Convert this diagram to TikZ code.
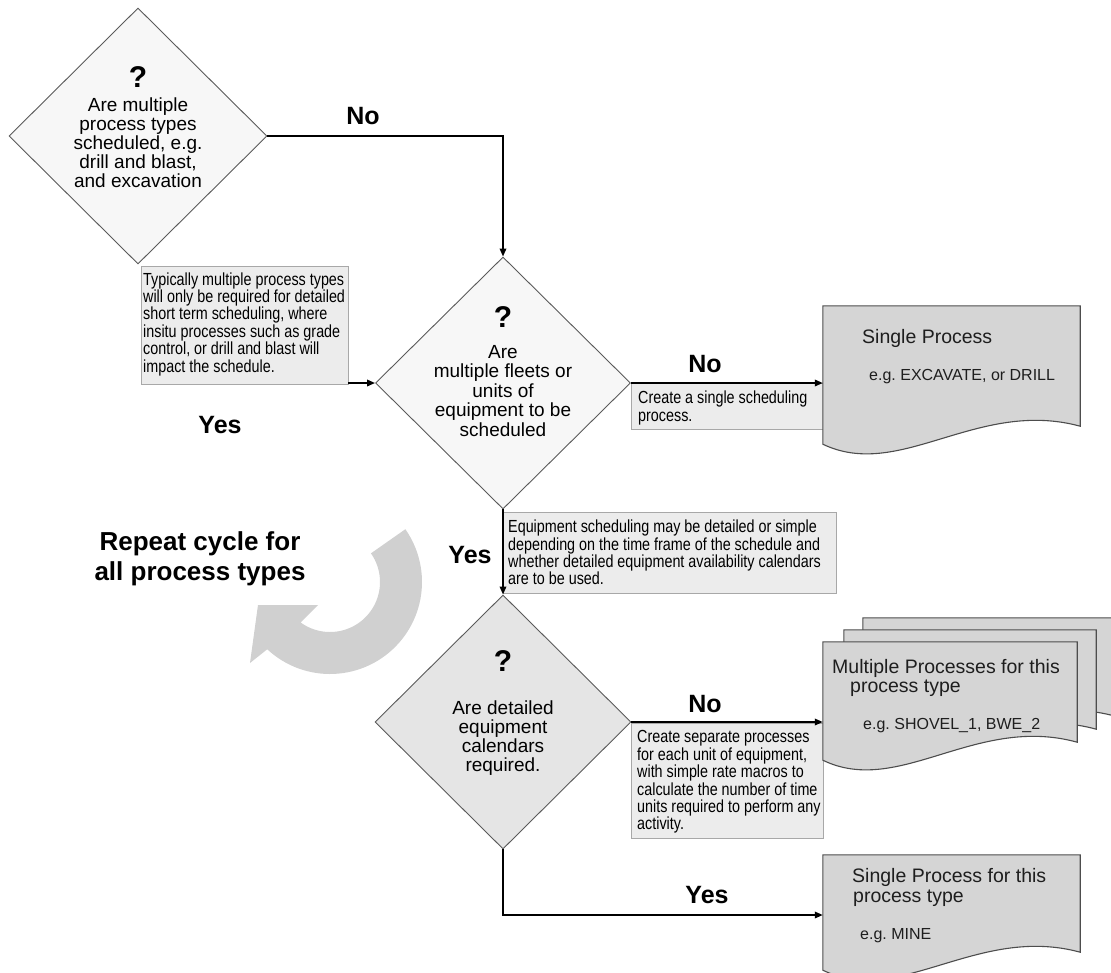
\documentclass[tikz,border=0pt]{standalone}
\usepackage{fontspec}
\setmainfont{Liberation Sans}
\newfontfamily\narrowfont[FakeStretch=0.82]{Liberation Sans}
\usetikzlibrary{shapes.geometric,arrows.meta,calc}
\definecolor{dialine}{HTML}{5A5A5A}
\definecolor{diafill}{HTML}{F7F7F7}
\definecolor{diafilldark}{HTML}{E5E5E5}
\definecolor{notefill}{HTML}{ECECEC}
\definecolor{noteline}{HTML}{A8A8A8}
\definecolor{docfill}{HTML}{D5D5D5}
\definecolor{docline}{HTML}{4D4D4D}
\definecolor{cyclegray}{HTML}{D0D0D0}
\definecolor{doctext}{HTML}{1E1E1E}
\frenchspacing
\newcommand\docpath[1]{%
  \draw[docstyle] (#1.south east) -- (#1.north east) -- (#1.north west)
    -- ($(#1.south west)+(0,18)$)
    .. controls ($(#1.south west)!0.3!(#1.south east)+(0,55)$)
    and ($(#1.south west)!0.6!(#1.south east)+(0,-28)$) .. (#1.south east) -- cycle;}
\begin{document}
\begin{tikzpicture}[x=1pt,y=-1pt,
  dia/.style={diamond, draw=dialine, line width=0.9pt, fill=diafill, inner sep=0pt},
  qmark/.style={font=\fontsize{30}{30}\selectfont\bfseries, anchor=base, inner sep=0pt},
  diatext/.style={font=\fontsize{19}{19}\selectfont, align=center, inner sep=0pt},
  notebox/.style={rectangle, draw=noteline, line width=0.8pt, fill=notefill, inner sep=0pt},
  notetext/.style={font=\narrowfont\fontsize{17.5}{17.4}\selectfont, align=left, inner sep=0pt, anchor=west},
  label/.style={font=\fontsize{25}{25}\selectfont\bfseries, anchor=base, inner sep=0pt},
  docnode/.style={rectangle, draw=none, inner sep=0pt},
  docstyle/.style={draw=docline, line width=1.1pt, fill=docfill},
  doctitle/.style={font=\fontsize{19.5}{19.5}\selectfont, text=doctext, anchor=base west, inner sep=0pt},
  docsub/.style={font=\fontsize{16}{16}\selectfont, text=doctext, anchor=base west, inner sep=0pt},
  conn/.style={line width=1.7pt, -{Triangle[length=8pt,width=6.5pt]}}
]
\useasboundingbox (0,0) rectangle (1111,972);
\clip (0,0) rectangle (1111,972);

% cycle arrow
\fill[cyclegray] plot[domain=-35:133, samples=60] ({330+92*cos(\x)},{582+92*sin(\x)})
  -- (250,663) -- (258,605) -- (318,605)
  -- plot[domain=126:-35, samples=60] ({330+50*cos(\x)},{582+50*sin(\x)}) -- cycle;
\node[label, font=\fontsize{26}{26}\selectfont\bfseries] (rep1) at (200,550) {Repeat cycle for};
\node[label, font=\fontsize{26}{26}\selectfont\bfseries] (rep2) at (200,580) {all process types};

% diamonds
\node[dia, minimum width=258pt, minimum height=256pt] (d1) at (138,136) {};
\node[qmark] (q1) at (138,87) {?};
\node[diatext] (t1) at (138,143) {Are multiple\\process types\\scheduled, e.g.\\drill and blast,\\and excavation};

\node[dia, minimum width=255pt, minimum height=252pt] (d2) at (503,383) {};
\node[qmark] (q2) at (503,327) {?};
\node[diatext, font=\fontsize{19}{19.5}\selectfont] (t2) at (503,391) {Are\\multiple fleets or\\units of\\equipment to be\\scheduled};

\node[dia, fill=diafilldark, minimum width=256pt, minimum height=254pt] (d3) at (503,722) {};
\node[qmark] (q3) at (503,671) {?};
\node[diatext] (t3) at (503,738) {Are detailed\\equipment\\calendars\\required.};

% notes
\node[notebox, minimum width=207pt, minimum height=118pt] (note1) at (244.5,325) {};
\node[notetext] (nt1) at (143,324) {Typically multiple process types\\will only be required for detailed\\short term scheduling, where\\insitu processes such as grade\\control, or drill and blast will\\impact the schedule.};

\node[notebox, minimum width=192pt, minimum height=46pt] (note2) at (727,406) {};
\node[notetext] (nt2) at (638,408) {Create a single scheduling\\process.};

\node[notebox, minimum width=333pt, minimum height=81pt] (note3) at (669.5,552.5) {};
\node[notetext] (nt3) at (508,552.5) {Equipment scheduling may be detailed or simple\\depending on the time frame of the schedule and\\whether detailed equipment availability calendars\\are to be used.};

\node[notebox, minimum width=192pt, minimum height=115pt] (note4) at (727,780.5) {};
\node[notetext] (nt4) at (637,782) {Create separate processes\\for each unit of equipment,\\with simple rate macros to\\calculate the number of time\\units required to perform any\\activity.};

% documents
\node[docnode, minimum width=257pt, minimum height=120pt] (doc1) at (951.5,366) {};
\docpath{doc1}
\node[doctitle] (doc1a) at (862,343) {Single Process};
\node[docsub] (doc1b) at (869,380) {e.g. EXCAVATE, or DRILL};

\node[docnode, minimum width=252pt, minimum height=98pt] (doc2b) at (989,667) {};
\docpath{doc2b}
\node[docnode, minimum width=252pt, minimum height=99pt] (doc2m) at (970,679.5) {};
\docpath{doc2m}
\node[docnode, minimum width=254pt, minimum height=100pt] (doc2f) at (950,692) {};
\docpath{doc2f}
\node[doctitle] (doc2a) at (832,673) {Multiple Processes for this};
\node[doctitle] (doc2c) at (850,692) {process type};
\node[docsub] (doc2d) at (863,729) {e.g. SHOVEL\_1, BWE\_2};

\node[docnode, minimum width=257pt, minimum height=97pt] (doc3) at (951.5,903.5) {};
\docpath{doc3}
\node[doctitle] (doc3a) at (852,882) {Single Process for this};
\node[doctitle] (doc3b) at (853,902) {process type};
\node[docsub] (doc3c) at (860,939) {e.g. MINE};

% connectors
\draw[conn] (d1.east) -- (d1.east -| d2.north) -- (d2.north);
\draw[conn] (note1.south east |- d2.west) -- (d2.west);
\draw[conn] (d2.east) -- (d2.east -| doc1.west);
\draw[conn] (d2.south) -- (d3.north);
\draw[conn] (d3.east) -- (d3.east -| doc2f.west);
\coordinate (ybend) at (503,915);
\draw[conn] (d3.south) -- (ybend) -- (ybend -| doc3.west);

% labels
\node[label] (no1) at (363,124) {No};
\node[label] (yes1) at (220,433) {Yes};
\node[label] (no2) at (705,372) {No};
\node[label] (yes2) at (470,563) {Yes};
\node[label] (no3) at (705,712) {No};
\node[label] (yes3) at (707,903) {Yes};
\end{tikzpicture}
\end{document}
